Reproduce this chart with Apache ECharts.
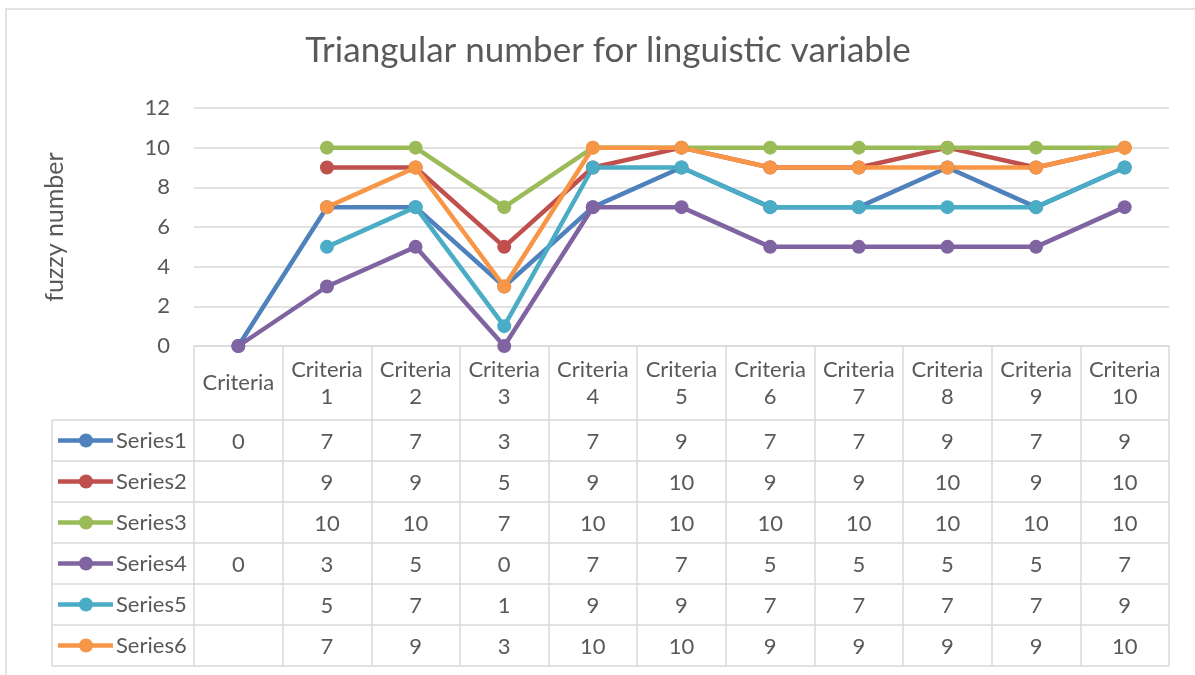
<!DOCTYPE html>
<html>
<head>
<meta charset="utf-8">
<script src="https://cdn.jsdelivr.net/npm/echarts@6/dist/echarts.min.js"></script>
<style>
* { margin: 0; padding: 0; }
html, body { background: #fff; }
#main { width: 1195px; height: 675px; }
</style>
</head>
<body>
<div id="main"></div>
<script>
// data
var categories = ['Criteria', 'Criteria\n1', 'Criteria\n2', 'Criteria\n3', 'Criteria\n4', 'Criteria\n5',
  'Criteria\n6', 'Criteria\n7', 'Criteria\n8', 'Criteria\n9', 'Criteria\n10'];
var seriesNames = ['Series1', 'Series2', 'Series3', 'Series4', 'Series5', 'Series6'];
var series1 = [0, 7, 7, 3, 7, 9, 7, 7, 9, 7, 9];
var series2 = [null, 9, 9, 5, 9, 10, 9, 9, 10, 9, 10];
var series3 = [null, 10, 10, 7, 10, 10, 10, 10, 10, 10, 10];
var series4 = [0, 3, 5, 0, 7, 7, 5, 5, 5, 5, 7];
var series5 = [null, 5, 7, 1, 9, 9, 7, 7, 7, 7, 9];
var series6 = [null, 7, 9, 3, 10, 10, 9, 9, 9, 9, 10];
var yTicks = [0, 2, 4, 6, 8, 10, 12];

var allData = [series1, series2, series3, series4, series5, series6];
var colors = ['#4F81BD', '#C0504D', '#9BBB59', '#8064A2', '#4BACC6', '#F79646'];
var FONT = 'Lato';
var TXT = '#595959';
var LINE = '#d9d9d9';

var chart = echarts.init(document.getElementById('main'));

var rowTop = 420, rowH = 41;

chart.setOption({
  animation: false,
  textStyle: { fontFamily: FONT },
  title: {
    text: 'Triangular number for linguistic variable',
    left: 603, textAlign: 'center', top: 28,
    textStyle: { fontFamily: FONT, fontSize: 35, fontWeight: 'normal', color: TXT }
  },
  grid: { left: 194, right: 26, top: 108, bottom: 329 },
  xAxis: {
    type: 'category',
    data: categories,
    boundaryGap: true,
    axisLine: { show: true, lineStyle: { color: LINE, width: 1.5 } },
    axisTick: { show: true, interval: 0, length: rowTop + rowH * 6 - 346, lineStyle: { color: LINE, width: 1.5 } },
    axisLabel: {
      interval: 0, margin: 37, verticalAlign: 'middle', align: 'center',
      fontFamily: FONT, fontSize: 22, lineHeight: 27, color: TXT
    }
  },
  yAxis: {
    type: 'value',
    min: yTicks[0], max: yTicks[yTicks.length - 1], interval: 2,
    axisLine: { show: false },
    axisTick: { show: false },
    splitLine: { lineStyle: { color: LINE, width: 1.5 } },
    axisLabel: { margin: 24, fontFamily: FONT, fontSize: 22, color: TXT },
    name: 'fuzzy number',
    nameLocation: 'middle',
    nameRotate: 90,
    nameGap: 127,
    nameTextStyle: { fontFamily: FONT, fontSize: 25, color: TXT }
  },
  series: allData.map(function (d, k) {
    return {
      name: seriesNames[k],
      type: 'line',
      data: d,
      connectNulls: false,
      symbol: 'circle',
      symbolSize: 14,
      lineStyle: { width: 4.5, color: colors[k] },
      itemStyle: { color: colors[k] },
      emphasis: { disabled: true }
    };
  })
});

// data table under the plot, columns taken from the category axis
var xs = categories.map(function (c, i) { return chart.convertToPixel({ xAxisIndex: 0 }, i); });
var bw = xs[1] - xs[0];
var tableRight = xs[xs.length - 1] + bw / 2;
var legLeft = 52;
var els = [];

// outer chart border
els.push({ type: 'rect', shape: { x: 6, y: 9, width: 1200, height: 680 },
  style: { fill: null, stroke: LINE, lineWidth: 1.5 }, silent: true });

for (var r = 0; r <= seriesNames.length; r++) {
  var y = rowTop + r * rowH;
  els.push({ type: 'line', shape: { x1: legLeft, y1: y, x2: tableRight, y2: y },
    style: { stroke: LINE, lineWidth: 1.5 }, silent: true });
}
els.push({ type: 'line', shape: { x1: legLeft, y1: rowTop, x2: legLeft, y2: rowTop + rowH * seriesNames.length },
  style: { stroke: LINE, lineWidth: 1.5 }, silent: true });

allData.forEach(function (d, k) {
  var cy = rowTop + k * rowH + rowH / 2;
  els.push({ type: 'line', shape: { x1: 58, y1: cy, x2: 113, y2: cy },
    style: { stroke: colors[k], lineWidth: 4.5 }, silent: true });
  els.push({ type: 'circle', shape: { cx: 86, cy: cy, r: 7 }, style: { fill: colors[k] }, silent: true });
  els.push({ type: 'text', x: 116, y: cy,
    style: { text: seriesNames[k], fill: TXT, font: '22px ' + FONT, textAlign: 'left', textVerticalAlign: 'middle' } });
  d.forEach(function (v, i) {
    if (v === null) return;
    els.push({ type: 'text', x: xs[i], y: cy + 1,
      style: { text: String(v), fill: TXT, font: '22px ' + FONT, textAlign: 'center', textVerticalAlign: 'middle' } });
  });
});

chart.setOption({ graphic: { elements: els } });
</script>
</body>
</html>
